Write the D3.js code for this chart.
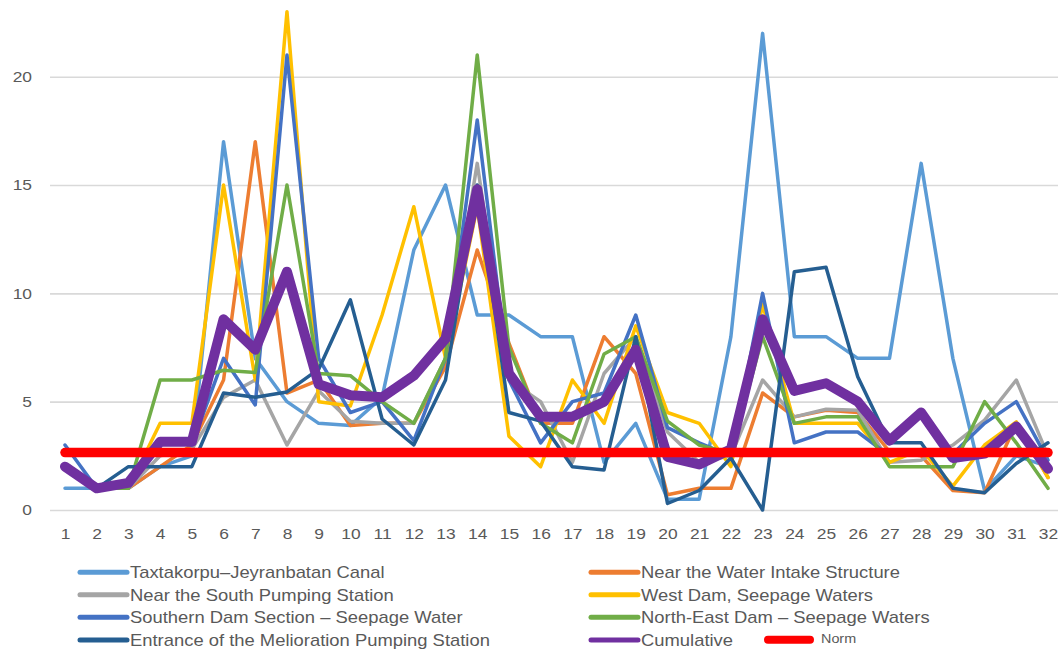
<!DOCTYPE html>
<html>
<head>
<meta charset="utf-8">
<script src="https://cdn.jsdelivr.net/npm/d3@7/dist/d3.min.js"></script>
<style>
  html, body { margin: 0; padding: 0; background: #ffffff; }
  svg { display: block; }
</style>
</head>
<body>
<svg id="chart" width="1058" height="649"></svg>
<script>
// ---- data ----
const categories = ["1","2","3","4","5","6","7","8","9","10","11","12","13","14","15","16","17","18","19","20","21","22","23","24","25","26","27","28","29","30","31","32"];
const yTicks = [0, 5, 10, 15, 20];

const taxtakorpu   = [1,1,1,2,2.5,17,7,5,4,3.9,5.2,12,15,9,9,8,8,2.2,4,0.5,0.5,8,22,8,8,7,7,16,7,0.9,2.5,2];
const waterIntake  = [2,1,1,2,3,6,17,5.4,6,3.9,4,4,6.6,12,7.7,4,4,8,6.3,0.7,1,1,5.4,4.3,4.6,4.5,2.7,2.5,0.9,0.8,4,1.5];
const southPumping = [2,1,1,2.5,2.8,5.2,6,3,5.5,4.1,4,4,7,16,6,5,2.2,6.3,8,3.6,2.2,2.5,6,4.3,4.65,4.6,2.2,2.3,3,4.15,6,2.5];
const westDam      = [2,1,1,4,4,15,6,23,5,4.8,9,14,7,14,3.4,2,6,4,8.5,4.5,4,2,9.5,4,4,4,2.2,2.8,1.1,3,4.07,1.5];
const southernDam  = [3,1,1,3.2,3,7,4.85,21,7,4.5,5,3.2,7,18,6,3.1,5,5.4,9,3.8,3.1,2.5,10,3.1,3.6,3.6,2.5,2.6,2.6,4,5,2.3];
const northEast    = [2,1,1,6,6,6.45,6.35,15,6.3,6.2,5,4,7,21,7.5,4,3.1,7.2,8,4.1,3,2.6,8,4,4.3,4.3,2,2,2,5,3.1,1];
const melioration  = [2,1,2,2,2,5.4,5.2,5.45,6.5,9.7,4.2,3,6,15,4.5,4.1,2,1.85,8,0.3,0.9,2.4,0,11,11.2,6.15,3.1,3.1,1,0.8,2.15,3.1];
const cumulative   = [2,1,1.25,3.15,3.15,8.8,7.4,11,5.8,5.3,5.2,6.2,7.9,14.8,6.3,4.3,4.3,5,7.4,2.45,2.1,2.8,8.8,5.5,5.85,5,3.2,4.5,2.4,2.6,3.85,1.9];
const norm         = [2.65,2.65,2.65,2.65,2.65,2.65,2.65,2.65,2.65,2.65,2.65,2.65,2.65,2.65,2.65,2.65,2.65,2.65,2.65,2.65,2.65,2.65,2.65,2.65,2.65,2.65,2.65,2.65,2.65,2.65,2.65,2.65];

const seriesNames = [
  "Taxtakorpu\u2013Jeyranbatan Canal",
  "Near the Water Intake Structure",
  "Near the South Pumping Station",
  "West Dam, Seepage Waters",
  "Southern Dam Section \u2013 Seepage Water",
  "North-East Dam \u2013 Seepage Waters",
  "Entrance of the Melioration Pumping Station",
  "Cumulative",
  "Norm"
];
const seriesValues = [taxtakorpu, waterIntake, southPumping, westDam, southernDam, northEast, melioration, cumulative, norm];
const seriesColors = ["#5B9BD5","#ED7D31","#A5A5A5","#FFC000","#4472C4","#70AD47","#255E91","#7030A0","#FF0000"];
const seriesWidths = [3.5,3.5,3.5,3.5,3.5,3.5,3.5,10,9.5];

// ---- layout ----
const svg = d3.select("#chart");
const plotLeft = 50, plotRight = 1058;
const x = d3.scalePoint().domain(categories).range([65, 1048]);
const y = d3.scaleLinear().domain([0, 20]).range([510, 76.7]);
const textColor = "#595959";
const fontFam = "'Liberation Sans', Arial, sans-serif";
const sx = 1.2;

// grid + y labels
const yAxis = d3.axisLeft(y).tickValues(yTicks).tickSize(-(plotRight - plotLeft)).tickPadding(15);
const gy = svg.append("g").attr("transform", `translate(${plotLeft},0)`).call(yAxis);
gy.select(".domain").remove();
gy.selectAll(".tick line").attr("stroke", "#D9D9D9").attr("stroke-width", 1.6);
gy.selectAll(".tick text")
  .attr("fill", textColor).attr("font-family", fontFam).attr("font-size", 14.5)
  .attr("transform", `scale(${sx},1)`);

// x labels
const xAxis = d3.axisBottom(x).tickSize(0).tickPadding(19);
const gx = svg.append("g").attr("transform", "translate(0,510)").call(xAxis);
gx.select(".domain").remove();
gx.selectAll(".tick text")
  .attr("fill", textColor).attr("font-family", fontFam).attr("font-size", 14.5)
  .attr("transform", `scale(${sx},1)`);

// lines
const line = d3.line().x((d, i) => x(categories[i])).y(d => y(d));
seriesValues.forEach((vals, k) => {
  svg.append("path")
    .datum(vals)
    .attr("d", line)
    .attr("fill", "none")
    .attr("stroke", seriesColors[k])
    .attr("stroke-width", seriesWidths[k])
    .attr("stroke-linejoin", "round")
    .attr("stroke-linecap", "round");
});

// legend
const legend = svg.append("g");
const rowY = [572.3, 594.7, 617.2, 640];
const colSwatch = [[80, 127], [591, 638]];
const colText = [130, 641];
for (let k = 0; k < 8; k++) {
  const row = Math.floor(k / 2), col = k % 2;
  const g = legend.append("g");
  g.append("line")
    .attr("x1", colSwatch[col][0]).attr("x2", colSwatch[col][1])
    .attr("y1", rowY[row]).attr("y2", rowY[row])
    .attr("stroke", seriesColors[k]).attr("stroke-width", 5).attr("stroke-linecap", "round");
  g.append("text")
    .attr("transform", `translate(${colText[col]},${rowY[row] + 5.8}) scale(1.15,1)`)
    .attr("font-family", fontFam).attr("font-size", 16).attr("fill", textColor)
    .text(seriesNames[k]);
}
// Norm entry
legend.append("line")
  .attr("x1", 768).attr("x2", 810).attr("y1", 639.7).attr("y2", 639.7)
  .attr("stroke", seriesColors[8]).attr("stroke-width", 8).attr("stroke-linecap", "round");
legend.append("text")
  .attr("transform", `translate(821,643) scale(1.15,1)`)
  .attr("font-family", fontFam).attr("font-size", 12.5).attr("fill", textColor)
  .text(seriesNames[8]);
</script>
</body>
</html>
